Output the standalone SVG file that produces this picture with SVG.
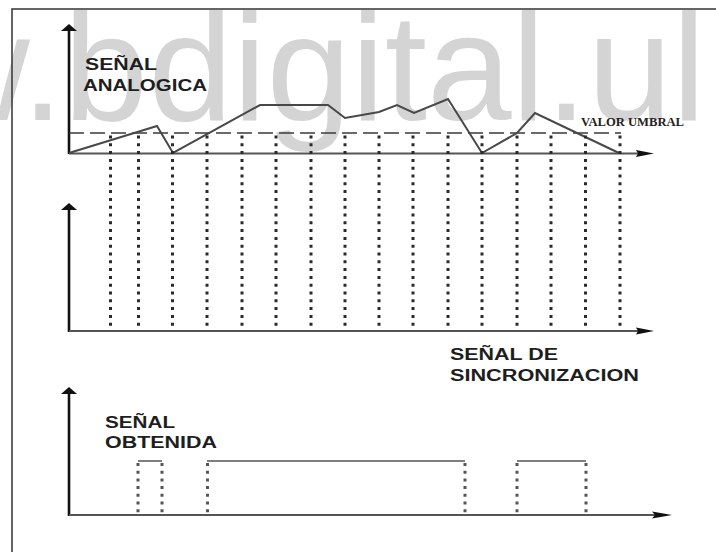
<svg xmlns="http://www.w3.org/2000/svg" width="716" height="552" viewBox="0 0 716 552">
<style>
.wm{font-family:"Liberation Sans",Arial,sans-serif;font-size:152px;fill:#d4d4d4}
.lbl{font-family:"Liberation Sans",Arial,sans-serif;font-size:16px;font-weight:bold;fill:#1e1e1e}
.thr{font-family:"Liberation Serif","Times New Roman",serif;font-size:12px;font-weight:bold;fill:#222}
.frame{fill:none;stroke:#333;stroke-width:1.5}
.vax{stroke:#111;stroke-width:2.6;fill:none}
.hax{stroke:#555;stroke-width:2;fill:none}
.ah{fill:#111}
.dot{stroke:#2a2a2a;stroke-width:3;stroke-dasharray:3 4.8;fill:none}
.dot2{stroke:#555;stroke-width:3;stroke-dasharray:3 4.7;fill:none}
.sig{stroke:#484848;stroke-width:2;fill:none;stroke-linejoin:miter}
.dash{stroke:#3a3a3a;stroke-width:1.6;stroke-dasharray:15 6;fill:none}
.out{stroke:#555;stroke-width:1.6;fill:none}
</style>
<rect width="716" height="552" fill="#fff"/>
<text class="wm" x="-80" y="120">w.bdigital.ul</text>
<path class="frame" d="M12,560 V9 H720"/>

<g id="chart-analog">
  <path class="vax" d="M69,154 V30"/>
  <polygon class="ah" points="69,24 61,31 77,31"/>
  <path class="hax" d="M69,153.5 H638"/>
  <polygon class="ah" points="654,153.5 636,150 638,153.5 636,157"/>
  <path class="dash" d="M69,133 H621"/>
  <polyline class="sig" points="69,153 157,126 173,153 260,105 328,105 345,118 379,112 397,105 414,113 448,99 482,153 517,133 535,113 619,153"/>
  <text class="thr" x="581" y="126" textLength="103" lengthAdjust="spacingAndGlyphs">VALOR UMBRAL</text>
  <text class="lbl" x="85" y="70" textLength="72" lengthAdjust="spacingAndGlyphs">SEÑAL</text>
  <text class="lbl" x="83" y="91" textLength="124" lengthAdjust="spacingAndGlyphs">ANALOGICA</text>
</g>

<g id="sampling-lines">
  <path class="dot" d="M110.5,135.5 V330 M138.5,135.5 V330 M172.5,135.5 V330 M207,135.5 V330 M242,135.5 V330 M276,135.5 V330 M311,135.5 V330 M345,135.5 V330 M379,135.5 V330 M413,135.5 V330 M448,135.5 V330 M482,135.5 V330 M517,135.5 V330 M551,135.5 V330 M585.5,135.5 V330 M620,135.5 V330"/>
</g>

<g id="chart-sync">
  <path class="vax" d="M69,332 V209"/>
  <polygon class="ah" points="69,203 61,210 77,210"/>
  <path class="hax" d="M69,331 H638"/>
  <polygon class="ah" points="654,331 636,327.5 638,331 636,334.5"/>
  <text class="lbl" x="450" y="360" textLength="108" lengthAdjust="spacingAndGlyphs">SEÑAL DE</text>
  <text class="lbl" x="450" y="381" textLength="189" lengthAdjust="spacingAndGlyphs">SINCRONIZACION</text>
</g>

<g id="chart-output">
  <path class="vax" d="M69,516 V393"/>
  <polygon class="ah" points="69,387 61,394 77,394"/>
  <path class="hax" d="M69,515 H655"/>
  <polygon class="ah" points="672,515 652,511.5 655,515 652,518.5"/>
  <path class="out" d="M138,461 H162 M207,461 H465 M517,461 H586"/>
  <path class="dot2" d="M138,463 V513 M162,463 V513 M207.5,463 V513 M465,463 V513 M517,463 V513 M586,463 V513"/>
  <text class="lbl" x="105" y="428" textLength="70" lengthAdjust="spacingAndGlyphs">SEÑAL</text>
  <text class="lbl" x="105" y="448" textLength="112" lengthAdjust="spacingAndGlyphs">OBTENIDA</text>
</g>
</svg>
